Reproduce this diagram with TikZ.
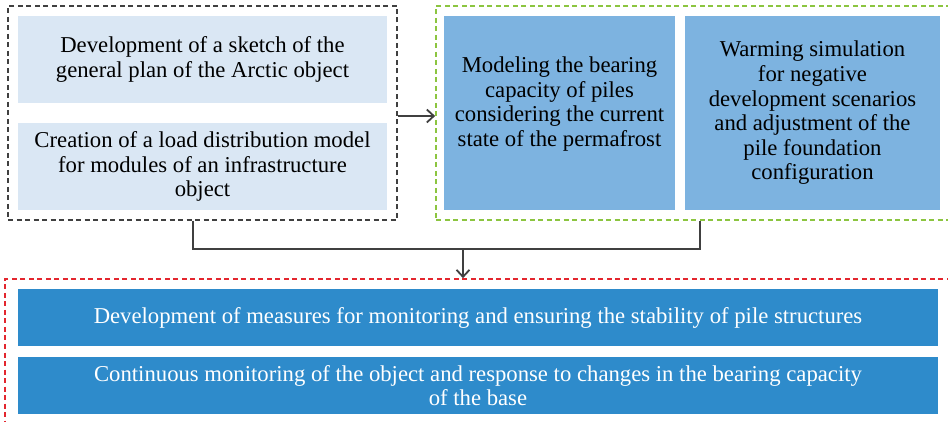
\documentclass[tikz,border=0pt]{standalone}
\usepackage{fontspec}
\setmainfont{Liberation Serif}
\usetikzlibrary{arrows.meta,fit}
\definecolor{paleblue}{HTML}{DAE7F4}
\definecolor{midblue}{HTML}{7DB3E0}
\definecolor{deepblue}{HTML}{2E8BCB}
\definecolor{groupgreen}{HTML}{8CC540}
\definecolor{groupred}{HTML}{E3262E}
\definecolor{linkgray}{HTML}{404040}
\tikzset{
  stagebox/.style={draw=none, inner sep=0pt, align=center,
    font=\fontsize{22.7}{24.6}\selectfont},
  palebox/.style={stagebox, fill=paleblue, text=black},
  midbox/.style={stagebox, fill=midblue, text=black},
  deepbox/.style={stagebox, fill=deepblue, text=white},
  groupbox/.style={draw, line width=1.7pt, dash pattern=on 5pt off 3.5pt, inner sep=0pt},
  link/.style={draw=linkgray, line width=1.8pt},
  linkarrow/.style={link, -{Straight Barb[length=7pt,width=13pt,line width=1.8pt]}},
}
\begin{document}
\begin{tikzpicture}[x=1pt,y=-1pt]
  \useasboundingbox (0,0) rectangle (948,422);
  \clip (0,0) rectangle (948,422);
  \fill[white] (0,0) rectangle (948,422);

  % left group: preparatory work
  \node[palebox, minimum width=369pt, minimum height=87pt] (sketch) at (202.5,59.5)
    {Development of a sketch of the\\general plan of the Arctic object};
  \node[palebox, minimum width=369pt, minimum height=87pt] (load) at (202.5,166.5)
    {Creation of a load distribution model\\for modules of an infrastructure\\object};

  % right group: modelling
  \node[midbox, minimum width=231pt, minimum height=194pt] (bearing) at (559.5,113) {};
  \node[stagebox] (bearingtext) at (559.5,104)
    {Modeling the bearing\\capacity of piles\\considering the current\\state of the permafrost};
  \node[midbox, minimum width=255pt, minimum height=194pt] (warming) at (812.5,113)
    {Warming simulation\\for negative\\development scenarios\\and adjustment of the\\pile foundation\\configuration};

  % bottom group: measures
  \node[deepbox, minimum width=920pt, minimum height=57pt] (measures) at (478,317.5)
    {Development of measures for monitoring and ensuring the stability of pile structures};
  \node[deepbox, minimum width=920pt, minimum height=57pt] (monitor) at (478,385.5)
    {Continuous monitoring of the object and response to changes in the bearing capacity\\of the base};

  % dashed group frames
  \coordinate (blackNW) at (8,6);   \coordinate (blackSE) at (397,220);
  \coordinate (greenNW) at (436,6); \coordinate (greenSE) at (952,220);
  \coordinate (redNW) at (5,279);   \coordinate (redSE) at (952,428);
  \node[groupbox, draw=linkgray, fit=(blackNW)(blackSE)] (prep) {};
  \node[groupbox, draw=groupgreen, fit=(greenNW)(greenSE)] (model) {};
  \node[groupbox, draw=groupred, fit=(redNW)(redSE)] (action) {};

  % connectors
  \draw[linkarrow] (prep.east |- 0,116) -- (model.west |- 0,116);
  \coordinate (join) at (463,249);
  \draw[link] (prep.south -| 193,0) -- (193,249) -- (700,249) -- (model.south -| 700,0);
  \draw[linkarrow] (join) -- (join |- action.north);
\end{tikzpicture}
\end{document}
